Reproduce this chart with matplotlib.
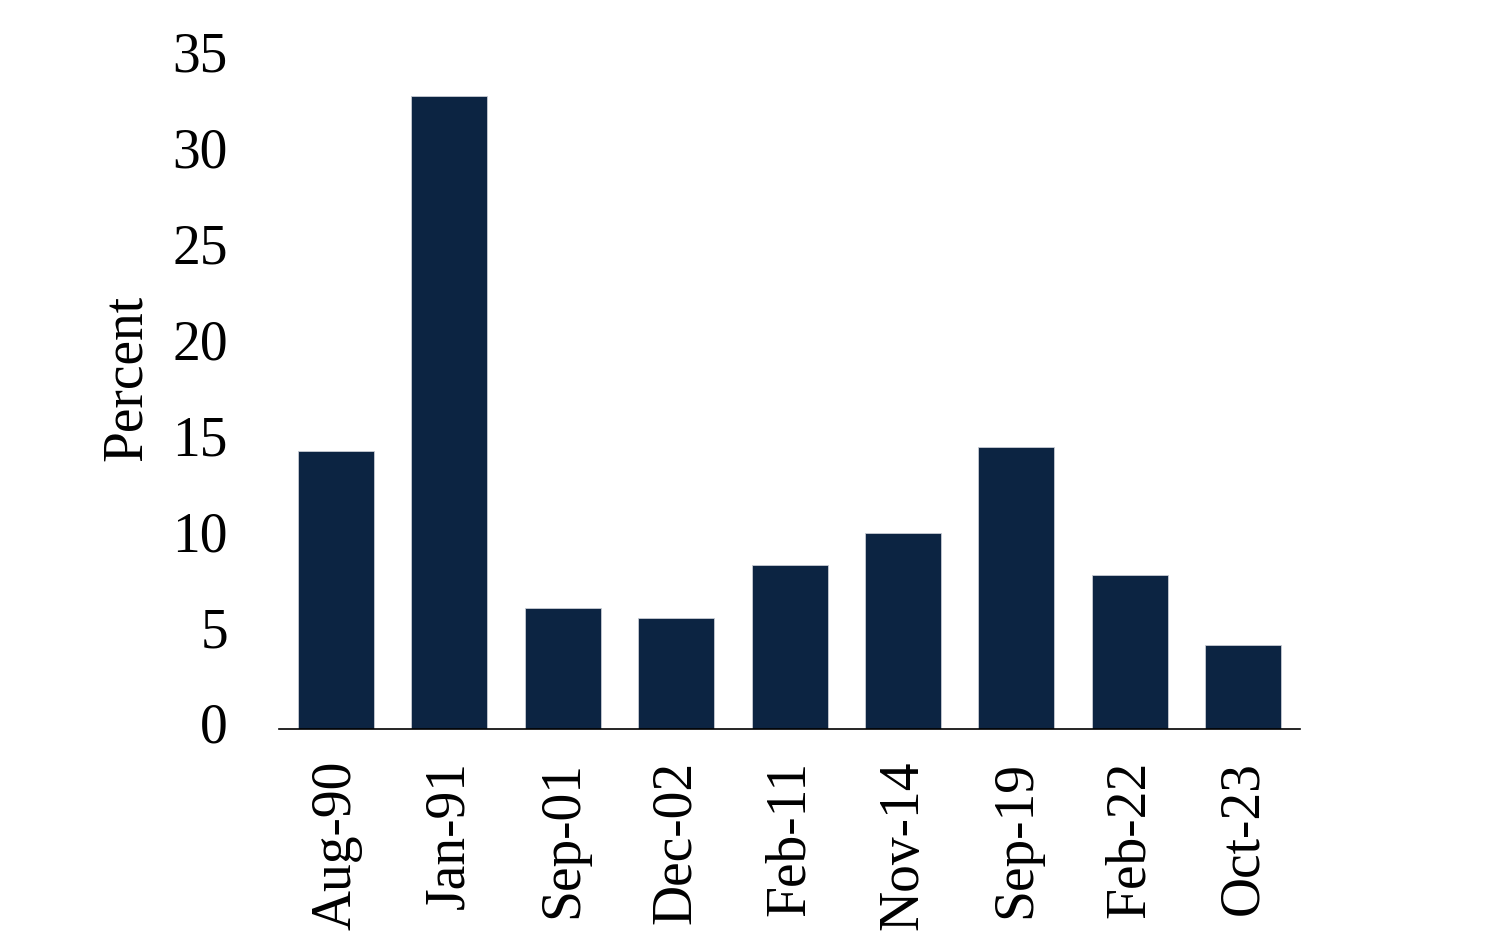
import numpy as np
import matplotlib.pyplot as plt

plt.rcParams['font.family'] = ['Liberation Serif', 'DejaVu Serif']

dates = ['Aug-90', 'Jan-91', 'Sep-01', 'Dec-02', 'Feb-11', 'Nov-14', 'Sep-19', 'Feb-22', 'Oct-23']
percent = [14.5, 33.0, 6.3, 5.8, 8.55, 10.2, 14.7, 8.0, 4.4]

fig = plt.figure(figsize=(14.94, 9.4), dpi=100)
ax = fig.add_axes([0.187, 0.2245, 0.683, 0.7145])

x = np.arange(len(dates))
ax.bar(x, percent, width=0.67, color='#0c2442', edgecolor='#c8ccd4', linewidth=0.6)

ax.set_xlim(-0.5, 8.5)
ax.set_ylim(0, 35)
ax.set_yticks(np.arange(0, 36, 5))
ax.set_xticks(x)
ax.set_xticklabels(dates, rotation=90)
ax.tick_params(axis='both', length=0, labelsize=40)
ax.tick_params(axis='y', pad=37)
ax.tick_params(axis='x', pad=23)
for lbl in ax.get_yticklabels():
    lbl.set_va('center')
ax.set_ylabel('Percent', fontsize=40, labelpad=14, y=0.522)

for s in ['top', 'right', 'left']:
    ax.spines[s].set_visible(False)
ax.spines['bottom'].set_linewidth(1.2)

fig.savefig('out.png', dpi=100)
